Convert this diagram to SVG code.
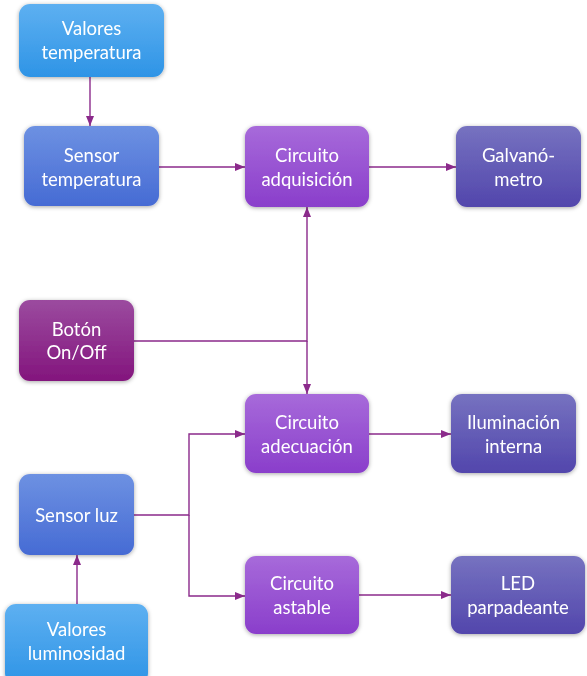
<svg xmlns="http://www.w3.org/2000/svg" width="587" height="676" viewBox="0 0 587 676">
<defs>
<linearGradient id="gVal" x1="0" y1="0" x2="0" y2="1"><stop offset="0" stop-color="#5eb0f1"/><stop offset="1" stop-color="#2e94e6"/></linearGradient>
<linearGradient id="gSen" x1="0" y1="0" x2="0" y2="1"><stop offset="0" stop-color="#6d91e2"/><stop offset="1" stop-color="#466bd4"/></linearGradient>
<linearGradient id="gCir" x1="0" y1="0" x2="0" y2="1"><stop offset="0" stop-color="#a76ada"/><stop offset="1" stop-color="#8a3ecb"/></linearGradient>
<linearGradient id="gOut" x1="0" y1="0" x2="0" y2="1"><stop offset="0" stop-color="#7672c0"/><stop offset="1" stop-color="#5246ac"/></linearGradient>
<linearGradient id="gBtn" x1="0" y1="0" x2="0" y2="1"><stop offset="0" stop-color="#9b4b9f"/><stop offset="1" stop-color="#83157d"/></linearGradient>
<filter id="sh" x="-20%" y="-20%" width="140%" height="140%"><feDropShadow dx="0" dy="1" stdDeviation="2" flood-color="#000" flood-opacity="0.35"/></filter>
<marker id="ar" markerUnits="userSpaceOnUse" markerWidth="10" markerHeight="10" viewBox="0 0 10 10" refX="10" refY="5" orient="auto"><path d="M0 1 L10 5 L0 9 Z" fill="#8b2a8b"/></marker>
<style>
.n{filter:url(#sh)}
.t{font-family:Lato,"Open Sans",sans-serif;font-size:18.5px;fill:#ffffff;text-anchor:middle}
.c{fill:none;stroke:#8b2a8b;stroke-width:1.4}
</style>
</defs>
<g id="connectors">
<path class="c" d="M90 77 V126" marker-end="url(#ar)"/>
<path class="c" d="M159 167 H245" marker-end="url(#ar)"/>
<path class="c" d="M369 167 H456" marker-end="url(#ar)"/>
<path class="c" d="M134 341 H307 V207" marker-end="url(#ar)"/>
<path class="c" d="M307 341 V394" marker-end="url(#ar)"/>
<path class="c" d="M134 515 H189 V434 H245" marker-end="url(#ar)"/>
<path class="c" d="M189 515 V596 H245" marker-end="url(#ar)"/>
<path class="c" d="M369 434 H451" marker-end="url(#ar)"/>
<path class="c" d="M359 595 H451" marker-end="url(#ar)"/>
<path class="c" d="M77 604 V555" marker-end="url(#ar)"/>
</g>
<g id="valores-temperatura" class="n"><rect x="19" y="4" width="145" height="73" rx="11" fill="url(#gVal)"/><text class="t" x="91.5" y="35">Valores</text><text class="t" x="91.5" y="59">temperatura</text></g>
<g id="sensor-temperatura" class="n"><rect x="24" y="126" width="135" height="80" rx="11" fill="url(#gSen)"/><text class="t" x="91.5" y="162">Sensor</text><text class="t" x="91.5" y="186">temperatura</text></g>
<g id="circuito-adquisicion" class="n"><rect x="245" y="126" width="124" height="81" rx="11" fill="url(#gCir)"/><text class="t" x="307" y="162">Circuito</text><text class="t" x="307" y="186">adquisición</text></g>
<g id="galvanometro" class="n"><rect x="456" y="126" width="125" height="81" rx="11" fill="url(#gOut)"/><text class="t" x="518.5" y="162">Galvanó-</text><text class="t" x="518.5" y="186">metro</text></g>
<g id="boton" class="n"><rect x="19" y="300" width="115" height="81" rx="11" fill="url(#gBtn)"/><text class="t" x="76.5" y="336">Botón</text><text class="t" x="76.5" y="359">On/Off</text></g>
<g id="circuito-adecuacion" class="n"><rect x="245" y="394" width="124" height="79" rx="11" fill="url(#gCir)"/><text class="t" x="307" y="429">Circuito</text><text class="t" x="307" y="453">adecuación</text></g>
<g id="iluminacion" class="n"><rect x="451" y="394" width="125" height="79" rx="11" fill="url(#gOut)"/><text class="t" x="513.5" y="429">Iluminación</text><text class="t" x="513.5" y="453">interna</text></g>
<g id="sensor-luz" class="n"><rect x="19" y="474" width="115" height="81" rx="11" fill="url(#gSen)"/><text class="t" x="76.5" y="522">Sensor luz</text></g>
<g id="circuito-astable" class="n"><rect x="245" y="556" width="114" height="78" rx="11" fill="url(#gCir)"/><text class="t" x="302" y="590">Circuito</text><text class="t" x="302" y="614">astable</text></g>
<g id="led" class="n"><rect x="451" y="556" width="134" height="78" rx="11" fill="url(#gOut)"/><text class="t" x="518" y="590">LED</text><text class="t" x="518" y="614">parpadeante</text></g>
<g id="valores-luminosidad" class="n"><rect x="5" y="604" width="143" height="80" rx="11" fill="url(#gVal)"/><text class="t" x="76.5" y="636">Valores</text><text class="t" x="76.5" y="660">luminosidad</text></g>
</svg>
